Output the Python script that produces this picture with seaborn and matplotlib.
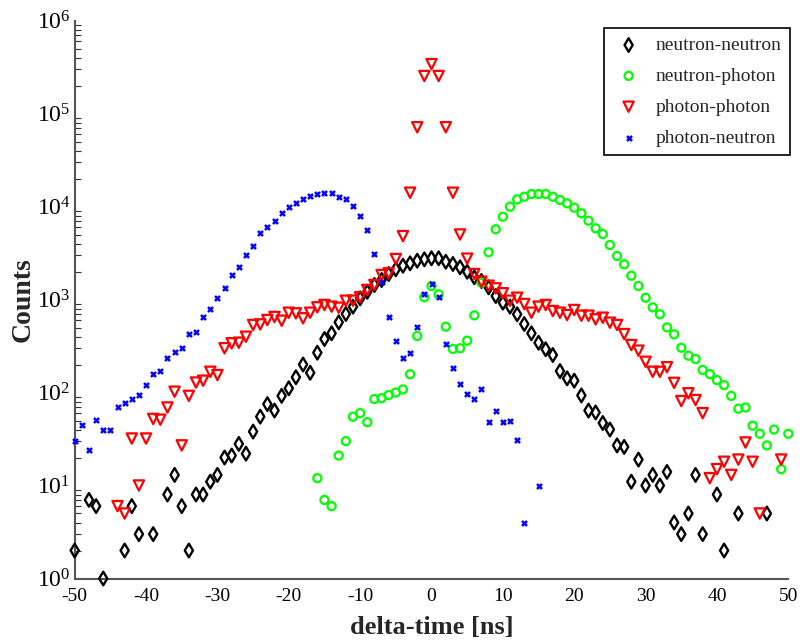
import numpy as np
import pandas as pd
import matplotlib
matplotlib.use("Agg")
import matplotlib.pyplot as plt
from matplotlib.ticker import LogLocator, FixedLocator
import seaborn as sns

# ---- data: coincidence counts per 1 ns time bin ----
nn_t = [-50, -48, -47, -46, -43, -42, -41, -39, -37, -36, -35, -34, -33, -32, -31, -30,
        -29, -28, -27, -26, -25, -24, -23, -22, -21, -20, -19, -18, -17, -16, -15, -14,
        -13, -12, -11, -10, -9, -8, -7, -6, -5, -4, -3, -2, -1, 0, 1, 2, 3, 4, 5, 6, 7,
        8, 9, 10, 11, 12, 13, 14, 15, 16, 17, 18, 19, 20, 21, 22, 23, 24, 25, 26, 27,
        28, 29, 30, 31, 32, 33, 34, 35, 36, 37, 38, 40, 41, 43, 47]
nn_counts = [2, 7, 6, 1, 2, 6, 3, 3, 8, 13, 6, 2, 8, 8, 11, 13,
             20, 21, 28, 22, 38, 55, 75, 64, 92, 111, 146, 200, 163, 268, 376, 433,
             569, 699, 838, 1030, 1213, 1432, 1622, 1880, 2113, 2310, 2450, 2613, 2704,
             2775, 2775, 2548, 2410, 2220, 1990, 1734, 1582,
             1352, 1091, 925, 838, 693, 545, 433, 343, 292, 253, 170, 142, 134, 93, 64,
             61, 47, 40, 27, 26, 11, 19, 10, 13, 10, 14, 4, 3, 5, 13, 3, 8, 2, 5, 5]

np_t = list(range(-16, 51))
np_counts = [12, 7, 6, 21, 30, 55, 60, 48, 85, 87, 94, 100, 108, 157, 405, 1057,
             1397, 1137, 510, 294, 299, 361, 676, 1516, 3220, 5690, 7760, 9960,
             11940, 12740, 13630, 13630, 13630, 12740, 11750, 10820, 9710, 8450, 7040,
             5830, 5060, 3855, 2937, 2390, 1803, 1397, 1045, 824, 693, 502, 422, 303,
             249, 229, 175, 158, 136, 120, 92, 67, 69, 44, 36, 27, 40, 15, 36]

pp_t = list(range(-44, 47)) + [49]
pp_counts = [6, 5, 32, 10, 32, 52, 51, 69, 102, 27, 92, 128, 134, 167, 154,
             299, 338, 343, 398, 532, 540, 602, 649, 591, 721, 710, 628, 721, 824, 873,
             838, 816, 971, 971, 1057, 1266, 1432, 1833, 1913, 2725, 4800, 14070,
             71100, 253000, 340000, 253000, 71100, 14070, 5000, 2750, 1880, 1553, 1407,
             1318, 1167, 971, 1045, 895, 721, 838, 873, 752, 721, 681, 771, 670, 670,
             612, 637, 563, 532, 425, 324, 282, 214, 167, 167, 187, 127, 81, 98, 83,
             60, 12, 15, 18, 13, 19, 29, 18, 5, 19]

pn_t = list(range(-50, 14)) + [15]
pn_counts = [30, 45, 24, 51, 40, 40, 70, 77, 85, 93, 120, 158, 170, 235, 275, 299,
             425, 448, 644, 791, 1038, 1320, 1833, 2253, 3010, 3760, 5150, 6070, 6990,
             8450, 9960, 10800, 12040, 13070, 13530, 13870, 13870, 12740, 12040, 10200,
             7960, 5590, 3105, 1553, 649, 361, 235, 264, 510, 1146, 1457, 1072, 332,
             185, 124, 97, 85, 110, 48, 63, 48, 49, 31, 4, 10]

series_names = ["neutron-neutron", "neutron-photon", "photon-photon", "photon-neutron"]

sns.set_theme(style="white")
plt.rcParams["font.family"] = ["Liberation Serif", "DejaVu Serif"]
plt.rcParams["mathtext.fontset"] = "stix"
plt.rcParams["axes.unicode_minus"] = False

fig = plt.figure(figsize=(8.04, 6.41), dpi=100)
ax = fig.add_axes([0.0929, 0.0975, 0.8876, 0.8705])

common = dict(ax=ax, clip_on=False, zorder=3)
sns.scatterplot(x=nn_t, y=nn_counts, marker="d", s=48, facecolor="none",
                edgecolor="black", color="black", linewidth=1.7,
                label=series_names[0], **common)
sns.scatterplot(x=np_t, y=np_counts, marker="o", s=34, facecolor="none",
                edgecolor="#00ff00", color="#00ff00", linewidth=1.6,
                label=series_names[1], **common)
sns.scatterplot(x=pp_t, y=pp_counts, marker="v", s=55, facecolor="none",
                edgecolor="red", color="red", linewidth=1.6,
                label=series_names[2], **common)
sns.scatterplot(x=pn_t, y=pn_counts, marker="x", s=13, color="blue",
                linewidth=1.8, label=series_names[3], **common)

ax.set_yscale("log")
ax.set_xlim(-50, 50)
ax.set_ylim(1, 1e6)
ax.xaxis.set_major_locator(FixedLocator(np.arange(-50, 51, 10)))
ax.yaxis.set_major_locator(LogLocator(base=10, numticks=10))
ax.yaxis.set_minor_locator(LogLocator(base=10, subs=np.arange(2, 10), numticks=10))

sns.despine(ax=ax)
for side in ("left", "bottom"):
    ax.spines[side].set_color("#555555")
    ax.spines[side].set_linewidth(1.5)

ax.tick_params(axis="both", which="major", direction="in", length=8, width=1,
               color="#333333", labelcolor="black")
ax.tick_params(axis="y", which="major", labelsize=17, pad=3)
ax.tick_params(axis="x", which="major", labelsize=14, pad=7)
ax.tick_params(axis="y", which="minor", direction="in", length=4, width=0.8,
               color="#333333", left=True)
ax.tick_params(axis="x", which="minor", bottom=False)

ax.set_xlabel("delta-time [ns]", fontsize=19, fontweight="bold", va="top")
ax.xaxis.set_label_coords(0.5, -0.068)
ax.set_ylabel("Counts", fontsize=20, fontweight="bold", va="center")
ax.yaxis.set_label_coords(-0.072, 0.5)

leg = ax.legend(loc="upper right", bbox_to_anchor=(1.003, 0.987), borderaxespad=0,
                fontsize=14, frameon=True, fancybox=False, handletextpad=0.6,
                borderpad=0.45, labelspacing=0.68, handlelength=1.6)
leg.get_frame().set_edgecolor("black")
leg.get_frame().set_linewidth(1.2)
leg.get_frame().set_alpha(1)

fig.savefig("out.png", dpi=100)
